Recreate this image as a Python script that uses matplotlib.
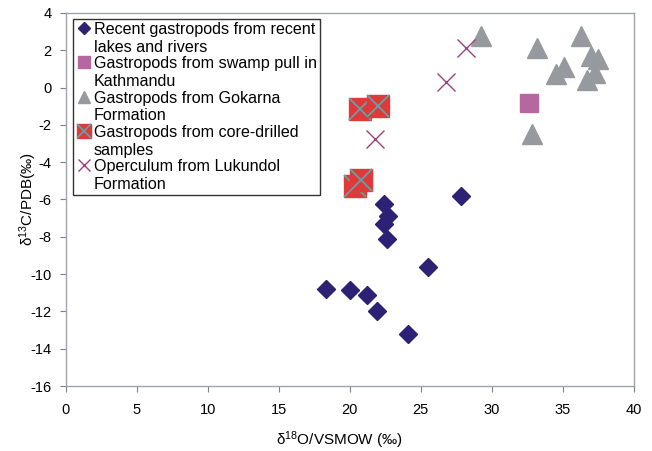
import matplotlib
matplotlib.use("Agg")
import numpy as np
import matplotlib.pyplot as plt
from matplotlib.legend_handler import HandlerTuple

plt.rcParams['font.family'] = ['Liberation Sans', 'DejaVu Sans']
plt.rcParams['mathtext.default'] = 'regular'
plt.rcParams['axes.unicode_minus'] = False

# Recent gastropods from recent lakes and rivers
recent_x = [18.3, 20.0, 21.2, 21.9, 24.1, 25.5, 27.8, 22.4, 22.7, 22.4, 22.6]
recent_y = [-10.8, -10.85, -11.1, -12.0, -13.2, -9.6, -5.8, -6.25, -6.9, -7.3, -8.1]
# Gastropods from swamp pull in Kathmandu
swamp_x = [32.6]
swamp_y = [-0.8]
# Gastropods from Gokarna Formation
gok_x = [29.2, 33.2, 36.3, 37.0, 37.45, 35.05, 34.5, 37.25, 36.7, 32.85]
gok_y = [2.75, 2.1, 2.75, 1.7, 1.55, 1.1, 0.75, 0.8, 0.4, -2.5]
# Gastropods from core-drilled samples
core_x = [20.4, 20.8, 20.7, 22.0]
core_y = [-5.3, -4.95, -1.15, -1.0]
# Operculum from Lukundol Formation
luk_x = [28.15, 26.8, 21.75]
luk_y = [2.1, 0.3, -2.75]

labels = ["Recent gastropods from recent\nlakes and rivers",
          "Gastropods from swamp pull in\nKathmandu",
          "Gastropods from Gokarna\nFormation",
          "Gastropods from core-drilled\nsamples",
          "Operculum from Lukundol\nFormation"]

DPI = 100
fig = plt.figure(figsize=(6.52, 4.51), dpi=DPI)
ax = fig.add_axes([65.5/652, 1-386/451, (634-65.5)/652, (386-13)/451])

h1, = ax.plot(recent_x, recent_y, 'D', color='#2d2175', ms=9.2, mec='#2d2175', ls='none', zorder=3)
h2, = ax.plot(swamp_x, swamp_y, 's', color='#b6679f', ms=13.4, mec='#b6679f', ls='none', zorder=3)
h3, = ax.plot(gok_x, gok_y, '^', color='#969a9e', ms=13.7, mec='#969a9e', ls='none', zorder=3)
h4a, = ax.plot([], [], 's', color='#e0393a', ms=15.5, mec='#e0393a', ls='none')
h4b, = ax.plot([], [], 'x', color='#5aa9b0', ms=15.5, mew=1.2, ls='none')
for cx, cy in zip(core_x, core_y):
    ax.plot([cx], [cy], 's', color='#e0393a', ms=15.5, mec='#e0393a', zorder=4)
    ax.plot([cx], [cy], 'x', color='#5aa9b0', ms=15.5, mew=1.2, zorder=4)
h5, = ax.plot(luk_x, luk_y, 'x', color='#a0407f', ms=13, mew=1.0, ls='none', zorder=5)

ax.set_xlim(0, 40)
ax.set_ylim(-16, 4)
ax.set_xticks(range(0, 41, 5))
ax.set_yticks(range(-16, 5, 2))
for s in ax.spines.values():
    s.set_color('#a0a4a8')
    s.set_linewidth(1.0)
ax.tick_params(direction='out', length=4, color='#808080', labelsize=10.5, pad=6)
ax.tick_params(axis='x', pad=8)

ax.set_xlabel(r"$\delta^{18}$O/VSMOW (‰)", fontsize=11, labelpad=9)
ax.xaxis.label.set_x((340 - 65.5) / 568.5)
ax.set_ylabel(r"$\delta^{13}$C/PDB(‰)", fontsize=11, labelpad=-6)

FS = 11.6
leg = ax.legend([h1, h2, h3, (h4a, h4b), h5], labels,
                handler_map={tuple: HandlerTuple(ndivide=1, pad=0)},
                loc='upper left', bbox_to_anchor=(0.013, 0.985), borderaxespad=0,
                fontsize=FS, markerscale=0.68, handlelength=0.95, handletextpad=0.12,
                borderpad=0.22, labelspacing=0.12, fancybox=False, frameon=True,
                edgecolor='#333333', framealpha=1)
leg.get_frame().set_linewidth(1.0)

# move each legend marker up to the first line of its two-line label
fig.canvas.draw()
renderer = fig.canvas.get_renderer()
em_px = FS * DPI / 72.0
for col in leg._legend_handle_box.get_children():
    for item in col.get_children():
        da, ta = item.get_children()[:2]
        bb = ta._text.get_window_extent(renderer)
        target = bb.y1 - 0.37 * em_px
        for art in da.get_children():
            if hasattr(art, 'get_ydata'):
                yd = np.asarray(art.get_ydata(), dtype=float)
                xd = np.asarray(art.get_xdata(), dtype=float)
                cur = art.get_transform().transform((xd[0], yd[0]))[1]
                art.set_ydata(yd + (target - cur) * 72.0 / DPI)

fig.savefig('out.png', dpi=DPI)
